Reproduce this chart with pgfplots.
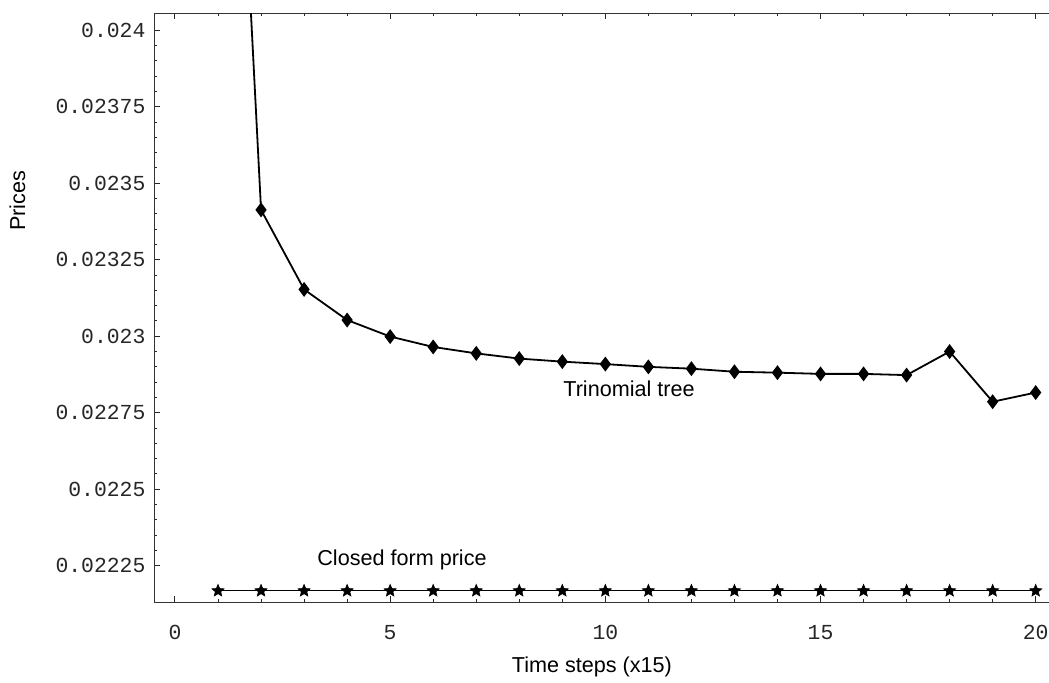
\documentclass[border=0pt]{standalone}
\usepackage{fontspec}
\setmainfont{Liberation Sans}
\newfontfamily\cour{Liberation Mono}
\usepackage{pgfplots}
\pgfplotsset{compat=1.18}

% filled five-pointed star
\pgfdeclareplotmark{fstar}{%
  \pgfpathmoveto{\pgfpointpolar{90}{\pgfplotmarksize}}%
  \pgfpathlineto{\pgfpointpolar{126}{0.45\pgfplotmarksize}}%
  \pgfpathlineto{\pgfpointpolar{162}{\pgfplotmarksize}}%
  \pgfpathlineto{\pgfpointpolar{198}{0.45\pgfplotmarksize}}%
  \pgfpathlineto{\pgfpointpolar{234}{\pgfplotmarksize}}%
  \pgfpathlineto{\pgfpointpolar{270}{0.45\pgfplotmarksize}}%
  \pgfpathlineto{\pgfpointpolar{306}{\pgfplotmarksize}}%
  \pgfpathlineto{\pgfpointpolar{342}{0.45\pgfplotmarksize}}%
  \pgfpathlineto{\pgfpointpolar{18}{\pgfplotmarksize}}%
  \pgfpathlineto{\pgfpointpolar{54}{0.45\pgfplotmarksize}}%
  \pgfpathclose
  \pgfusepathqfillstroke}

\begin{document}
\begin{tikzpicture}
\useasboundingbox (-77.25pt,-40pt) rectangle (447.25pt,301pt);
\begin{axis}[
  at={(0,0)}, anchor=south west,
  scale only axis, width=447.25pt, height=294.5pt,
  xmin=-0.476, xmax=20.309,
  ymin=0.0221314, ymax=0.0240565,
  axis x line=box, axis y line=left,
  axis line style={-, black!80, line width=0.5pt},
  every outer x axis line/.append style={-},
  every outer y axis line/.append style={-},
  tick align=inside,
  tick style={black!85, line width=0.5pt},
  major tick length=3pt, minor tick length=1.5pt,
  xtick={0,5,10,15,20},
  xticklabels={0,5,10,15,20},
  minor x tick num=4,
  ytick={0.02225,0.0225,0.02275,0.023,0.02325,0.0235,0.02375,0.024},
  yticklabels={0.02225,0.0225,0.02275,0.023,0.02325,0.0235,0.02375,0.024},
  minor y tick num=4,
  scaled y ticks=false,
  xticklabel pos=bottom,
  ticklabel style={font=\cour\fontsize{10.7}{12}\selectfont, text=black!85},
  xticklabel style={yshift=-8pt},
  yticklabel style={xshift=-1pt},
  label style={font=\fontsize{10.8}{13}\selectfont},
  xlabel={Time steps (x15)},
  ylabel={Prices},
  xlabel style={at={(axis description cs:0.489,-0.1104)}, anchor=center},
  ylabel style={at={(axis description cs:-0.1532,0.681)}, anchor=center},
  clip=true,
]
\addplot[black, line width=0.9pt, mark=diamond*, mark size=3pt, mark options={solid}] coordinates {
  (1,0.02615) (2,0.023413) (3,0.023153) (4,0.023053) (5,0.022999)
  (6,0.022965) (7,0.022944) (8,0.022927) (9,0.022917) (10,0.022909)
  (11,0.022900) (12,0.022894) (13,0.022884) (14,0.022881) (15,0.022877)
  (16,0.022877) (17,0.022873) (18,0.022950) (19,0.022786) (20,0.022816)
};
\addplot[black, line width=0.5pt, mark=fstar, mark size=3.2pt, mark options={solid, line width=0.3pt}] coordinates {
  (1,0.022168) (2,0.022168) (3,0.022168) (4,0.022168) (5,0.022168)
  (6,0.022168) (7,0.022168) (8,0.022168) (9,0.022168) (10,0.022168)
  (11,0.022168) (12,0.022168) (13,0.022168) (14,0.022168) (15,0.022168)
  (16,0.022168) (17,0.022168) (18,0.022168) (19,0.022168) (20,0.022168)
};
\node[anchor=base, font=\fontsize{10.8}{13}\selectfont, inner sep=0pt] at (axis cs:10.55,0.0228047) {Trinomial tree};
\node[anchor=base, font=\fontsize{10.8}{13}\selectfont, inner sep=0pt] at (axis cs:5.275,0.0222491) {Closed form price};
\end{axis}
\end{tikzpicture}
\end{document}
